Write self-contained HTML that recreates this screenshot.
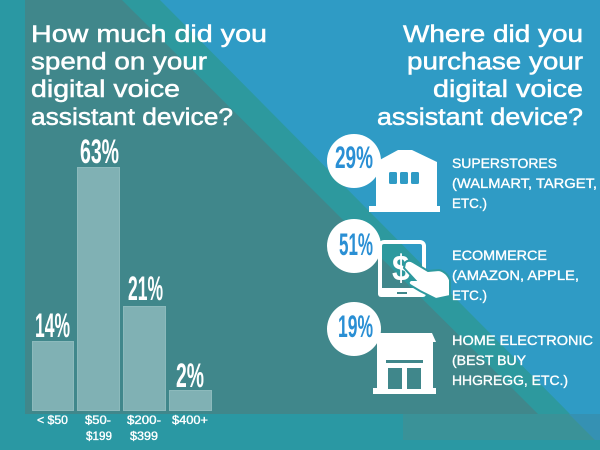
<!DOCTYPE html>
<html><head><meta charset="utf-8"><style>
html,body{margin:0;padding:0;width:600px;height:450px;overflow:hidden;background:#2a98a3}
svg{display:block}
text{font-family:"Liberation Sans",sans-serif}
</style></head><body>
<svg width="600" height="450" viewBox="0 0 600 450" xmlns="http://www.w3.org/2000/svg">
<rect width="600" height="450" fill="#2a98a3"/>
<rect x="25" y="0" width="575" height="414" fill="#40878b"/>
<polygon points="122,0 600,0 600,414 538,414" fill="#2d999e"/>
<polygon points="160,0 600,0 600,414 570,414" fill="#2f9bc5"/>
<rect x="403" y="414" width="197" height="26" fill="#3a9298"/>
<polygon points="569,414 600,414 600,440 595,440" fill="#3591b3"/>

<!-- left title -->
<g fill="#fff" stroke="#fff" stroke-width="0.5" font-size="24">
<text x="31" y="42" textLength="236" lengthAdjust="spacingAndGlyphs">How much did you</text>
<text x="31" y="69.5" textLength="176" lengthAdjust="spacingAndGlyphs">spend on your</text>
<text x="31" y="97" textLength="149" lengthAdjust="spacingAndGlyphs">digital voice</text>
<text x="31" y="125" textLength="202" lengthAdjust="spacingAndGlyphs">assistant device?</text>
</g>
<!-- right title -->
<g fill="#fff" stroke="#fff" stroke-width="0.5" font-size="24">
<text x="403" y="42" textLength="180" lengthAdjust="spacingAndGlyphs">Where did you</text>
<text x="407" y="69.5" textLength="176" lengthAdjust="spacingAndGlyphs">purchase your</text>
<text x="433" y="97" textLength="150" lengthAdjust="spacingAndGlyphs">digital voice</text>
<text x="377" y="125" textLength="206" lengthAdjust="spacingAndGlyphs">assistant device?</text>
</g>

<!-- bars -->
<g fill="#80b1b4" stroke="#8cbabc" stroke-width="1">
<rect x="32.5" y="341.5" width="41" height="69"/>
<rect x="77.5" y="167.5" width="42" height="243"/>
<rect x="123.5" y="306.5" width="42" height="104"/>
<rect x="169.5" y="390.5" width="42" height="20"/>
</g>
<g fill="#fff" font-size="34" font-weight="bold">
<text x="35" y="337" textLength="35" lengthAdjust="spacingAndGlyphs">14%</text>
<text x="80" y="163" textLength="39" lengthAdjust="spacingAndGlyphs">63%</text>
<text x="128" y="300" textLength="35" lengthAdjust="spacingAndGlyphs">21%</text>
<text x="176" y="387" textLength="28" lengthAdjust="spacingAndGlyphs">2%</text>
</g>
<g fill="#fff" stroke="#fff" stroke-width="0.35" font-size="11.5">
<text x="37" y="424" textLength="31" lengthAdjust="spacingAndGlyphs">&lt; $50</text>
<text x="85" y="424" textLength="26" lengthAdjust="spacingAndGlyphs">$50-</text>
<text x="86" y="440" textLength="26" lengthAdjust="spacingAndGlyphs">$199</text>
<text x="127" y="424" textLength="34" lengthAdjust="spacingAndGlyphs">$200-</text>
<text x="130" y="440" textLength="28" lengthAdjust="spacingAndGlyphs">$399</text>
<text x="172" y="424" textLength="36" lengthAdjust="spacingAndGlyphs">$400+</text>
</g>

<!-- warehouse icon -->
<polygon points="376,162 398,150 412,150 437,162 437,207 376,207" fill="#fff"/>
<rect x="369" y="206" width="71" height="6" fill="#fff"/>
<g fill="#2f9bc5">
<rect x="389" y="172" width="8" height="12" rx="1.5"/>
<rect x="400" y="172" width="8" height="12" rx="1.5"/>
<rect x="411" y="172" width="8" height="12" rx="1.5"/>
</g>

<!-- tablet icon -->
<rect x="380" y="242" width="44" height="53" rx="4" fill="none" stroke="#fff" stroke-width="4"/>
<rect x="378" y="288" width="48" height="9" rx="3" fill="#fff"/>
<rect x="397" y="292" width="10" height="2" fill="#40878b"/>
<text x="392" y="280.5" font-size="36" font-weight="bold" fill="#fff" textLength="18" lengthAdjust="spacingAndGlyphs">$</text>
<path d="M405,263 Q408,259 413,262 L428,271 L439,270 Q447,272 450,280 L450,296 L436,299 L420,291 L410,285 Q407,282 411,280 L415,280 L404,268 Z" fill="#fff" stroke="#2d999e" stroke-width="2"/>

<!-- store icon -->
<polygon points="375,333 432,333 436,342 372,342" fill="#fff"/>
<rect x="377" y="341" width="56" height="48" fill="#fff"/>
<rect x="373" y="388" width="63" height="6" fill="#fff"/>
<g fill="#40878b">
<rect x="386" y="360" width="37" height="3"/>
<rect x="388" y="368" width="14" height="21"/>
<rect x="407" y="368" width="14" height="21"/>
</g>

<!-- circles -->
<g fill="#fff">
<circle cx="354" cy="161" r="27"/>
<circle cx="354" cy="246" r="27"/>
<circle cx="354" cy="329" r="27"/>
</g>
<g fill="#2a8fd4" font-size="31.5" font-weight="bold">
<text x="335" y="168" textLength="38" lengthAdjust="spacingAndGlyphs">29%</text>
<text x="339" y="255" textLength="34" lengthAdjust="spacingAndGlyphs">51%</text>
<text x="338" y="337" textLength="35" lengthAdjust="spacingAndGlyphs">19%</text>
</g>

<!-- item text -->
<g fill="#fff" stroke="#fff" stroke-width="0.35" font-size="14">
<text x="452" y="168" textLength="105" lengthAdjust="spacingAndGlyphs">SUPERSTORES</text>
<text x="452" y="188" textLength="145" lengthAdjust="spacingAndGlyphs">(WALMART, TARGET,</text>
<text x="452" y="208" textLength="35" lengthAdjust="spacingAndGlyphs">ETC.)</text>
<text x="452" y="260" textLength="95" lengthAdjust="spacingAndGlyphs">ECOMMERCE</text>
<text x="452" y="280" textLength="127" lengthAdjust="spacingAndGlyphs">(AMAZON, APPLE,</text>
<text x="452" y="300" textLength="35" lengthAdjust="spacingAndGlyphs">ETC.)</text>
<text x="452" y="345" textLength="141" lengthAdjust="spacingAndGlyphs">HOME ELECTRONIC</text>
<text x="452" y="365" textLength="74" lengthAdjust="spacingAndGlyphs">(BEST BUY</text>
<text x="452" y="385" textLength="116" lengthAdjust="spacingAndGlyphs">HHGREGG, ETC.)</text>
</g>
</svg>
</body></html>
